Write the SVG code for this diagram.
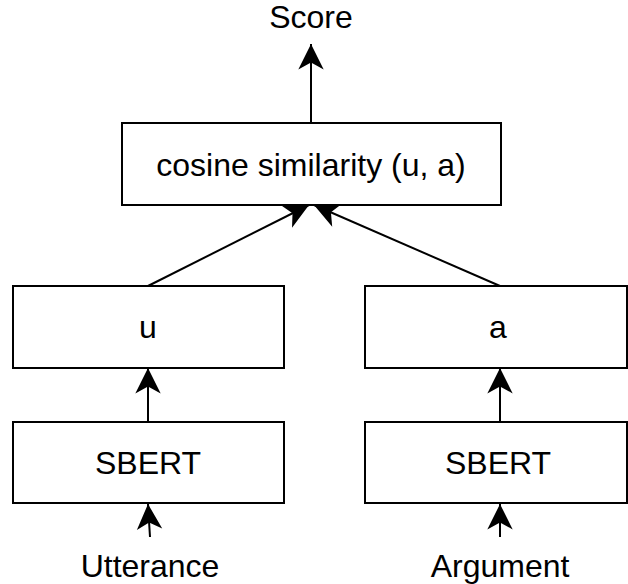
<svg xmlns="http://www.w3.org/2000/svg" width="628" height="584" viewBox="0 0 628 584">
  <style>
    .box { fill: #ffffff; stroke: #000000; stroke-width: 2; }
    .lbl { font-family: "Liberation Sans", Arial, sans-serif; font-size: 32px; fill: #000000; text-anchor: middle; }
    .edge { stroke: #000000; stroke-width: 2; fill: none; marker-end: url(#arrow); }
  </style>
  <defs>
    <marker id="arrow" markerUnits="userSpaceOnUse" markerWidth="30" markerHeight="30" viewBox="-24 -12 26 24" refX="0" refY="0" orient="auto">
      <path d="M0,0 L-22,-11 L-16,0 L-22,11 Z" fill="#000000"/>
    </marker>
  </defs>
  <rect width="628" height="584" fill="#ffffff"/>

  <g id="connectors">
    <line class="edge" x1="311" y1="123" x2="311" y2="44"/>
    <line class="edge" x1="148" y1="286" x2="309" y2="205"/>
    <line class="edge" x1="500" y1="286" x2="314" y2="205"/>
    <line class="edge" x1="148" y1="422" x2="148" y2="368"/>
    <line class="edge" x1="500" y1="422" x2="500" y2="368"/>
    <line class="edge" x1="150" y1="537" x2="148" y2="504"/>
    <line class="edge" x1="500" y1="537" x2="500" y2="504"/>
  </g>

  <g id="score">
    <text class="lbl" x="311" y="28">Score</text>
  </g>

  <g id="cosine">
    <rect class="box" x="122" y="123" width="379" height="82"/>
    <text class="lbl" x="311" y="176">cosine similarity (u, a)</text>
  </g>

  <g id="u">
    <rect class="box" x="13" y="286" width="271" height="82"/>
    <text class="lbl" x="148" y="338">u</text>
  </g>

  <g id="a">
    <rect class="box" x="365" y="286" width="262" height="82"/>
    <text class="lbl" x="498" y="338">a</text>
  </g>

  <g id="sbert-u">
    <rect class="box" x="13" y="422" width="271" height="81"/>
    <text class="lbl" x="148" y="474">SBERT</text>
  </g>

  <g id="sbert-a">
    <rect class="box" x="365" y="422" width="262" height="81"/>
    <text class="lbl" x="498" y="474">SBERT</text>
  </g>

  <g id="utterance">
    <text class="lbl" x="150" y="577">Utterance</text>
  </g>

  <g id="argument">
    <text class="lbl" x="500" y="577">Argument</text>
  </g>
</svg>
